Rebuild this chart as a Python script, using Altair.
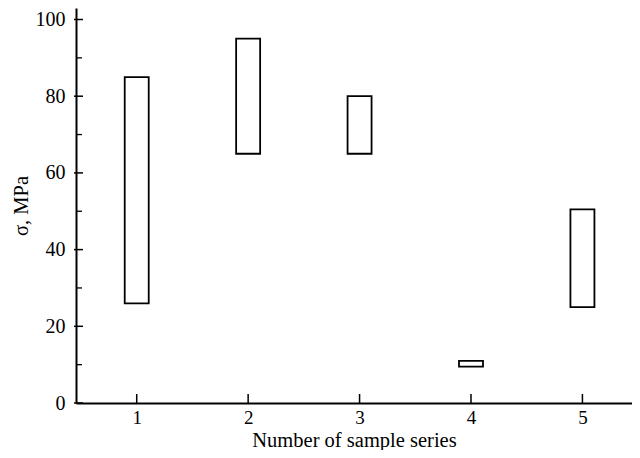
import altair as alt
import pandas as pd

series = [1, 2, 3, 4, 5]
sigma_low = [26, 65, 65, 9.5, 25]
sigma_high = [85, 95, 80, 11, 50.5]

y_major = [0, 20, 40, 60, 80, 100]
y_minor = [10, 30, 50, 70, 90]
x_ticks = [1, 2, 3, 4, 5]

W, H = 556, 395
FONT = "Liberation Serif"

bars_df = pd.DataFrame({"n": series, "lo": sigma_low, "hi": sigma_high})
ymaj_df = pd.DataFrame({"n": [None] * len(y_major), "lo": y_major})
ymin_df = pd.DataFrame({"n": [None] * len(y_minor), "lo": y_minor})
xt_df = pd.DataFrame({"n": x_ticks})

xscale = alt.Scale(domain=[0.5, 5.4], nice=False, zero=False)
yscale = alt.Scale(domain=[0, 103], nice=False, zero=False)

x_axis = alt.Axis(
    values=x_ticks, format="d", ticks=False, tickSize=0, labelPadding=5.5,
    labelFont=FONT, labelFontSize=19, labelColor="black",
    domainColor="black", domainWidth=2, grid=False,
    title="Number of sample series", titleFont=FONT, titleFontSize=20.5,
    titleFontWeight="normal", titleColor="black", titleY=43.7,
    titleBaseline="alphabetic",
)
y_axis = alt.Axis(
    values=y_major, format="d", ticks=False, tickSize=0, labelPadding=11,
    labelFont=FONT, labelFontSize=20, labelColor="black",
    domainColor="black", domainWidth=2, grid=False,
    title="σ, MPa", titleFont=FONT, titleFontSize=20.5,
    titleFontWeight="normal", titleColor="black", titleX=-49,
    titleBaseline="alphabetic", titleAngle=270,
)

bars = alt.Chart(bars_df).mark_bar(
    size=24, fill="white", stroke="black", strokeWidth=1.8
).encode(
    x=alt.X("n:Q", scale=xscale, axis=x_axis),
    y=alt.Y("lo:Q", scale=yscale, axis=y_axis),
    y2="hi:Q",
)

ymaj = alt.Chart(ymaj_df).mark_rule(color="black", strokeWidth=1.5).encode(
    x=alt.value(-2), x2=alt.value(7),
    y=alt.Y("lo:Q", scale=yscale, axis=y_axis),
)
ymin = alt.Chart(ymin_df).mark_rule(color="black", strokeWidth=1.3).encode(
    x=alt.value(0), x2=alt.value(6),
    y=alt.Y("lo:Q", scale=yscale, axis=y_axis),
)
xt = alt.Chart(xt_df).mark_rule(color="black", strokeWidth=1.5).encode(
    x=alt.X("n:Q", scale=xscale, axis=x_axis),
    y=alt.value(H - 9), y2=alt.value(H),
)

chart = alt.layer(bars, ymaj, ymin, xt).properties(
    width=W, height=H,
    autosize=alt.AutoSizeParams(type="none"),
    padding={"left": 68, "top": 0, "right": 0, "bottom": 47},
    background="white",
).configure_view(stroke=None)

chart.save("out.html", embed_options={"renderer": "svg", "actions": False})
